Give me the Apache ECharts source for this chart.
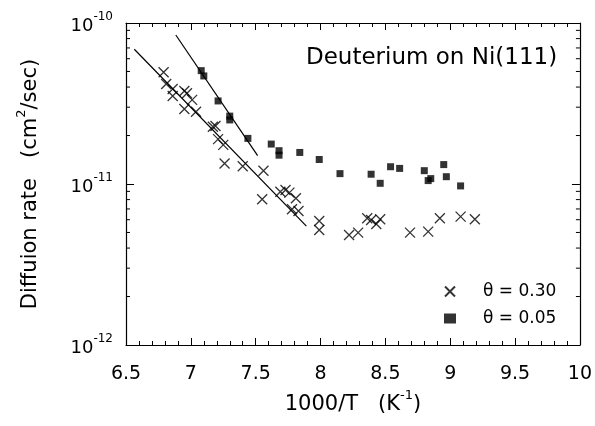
<!DOCTYPE html>
<html>
<head>
<meta charset="utf-8">
<script src="https://cdn.jsdelivr.net/npm/echarts@6/dist/echarts.min.js"></script>
<style>
html,body{margin:0;padding:0;background:#fff;}
#chart{width:595px;height:426px;}
</style>
</head>
<body>
<div id="chart"></div>
<script>
// theta = 0.30 (crosses)
var crossX = [6.79, 6.81, 6.86, 6.86, 6.95, 6.97, 7.01, 6.95, 7.04, 7.17, 7.19, 7.21, 7.25, 7.26, 7.40, 7.56, 7.55,
              7.69, 7.73, 7.76, 7.81, 7.78, 7.83, 7.99, 7.99, 8.22, 8.29, 8.36, 8.39, 8.43, 8.46, 8.69, 8.83, 8.92, 9.08, 9.19];
var crossY = [4.94e-11, 4.18e-11, 3.89e-11, 3.52e-11, 3.78e-11, 3.66e-11, 3.33e-11, 2.92e-11, 2.81e-11, 2.27e-11, 2.29e-11, 1.90e-11,
              1.75e-11, 1.34e-11, 1.29e-11, 1.21e-11, 8.04e-12, 8.96e-12, 9.18e-12, 8.84e-12, 8.15e-12, 6.97e-12, 6.80e-12, 5.89e-12,
              5.18e-12, 4.82e-12, 4.99e-12, 6.12e-12, 5.97e-12, 5.65e-12, 6.04e-12, 4.99e-12, 5.06e-12, 6.12e-12, 6.27e-12, 6.04e-12];
// theta = 0.05 (squares)
var squareX = [7.08, 7.10, 7.21, 7.30, 7.30, 7.44, 7.62, 7.68, 7.68, 7.84, 7.99, 8.15, 8.39, 8.46, 8.54, 8.61, 8.80, 8.83, 8.85, 8.95, 8.97, 9.08];
var squareY = [5.06e-11, 4.69e-11, 3.28e-11, 2.64e-11, 2.50e-11, 1.92e-11, 1.77e-11, 1.61e-11, 1.51e-11, 1.57e-11, 1.42e-11, 1.16e-11,
               1.15e-11, 1.01e-11, 1.28e-11, 1.25e-11, 1.21e-11, 1.05e-11, 1.08e-11, 1.32e-11, 1.11e-11, 9.73e-12];
// fitted lines (end points)
var fitCrossX = [6.564, 7.891];
var fitCrossY = [6.87e-11, 5.48e-12];
var fitSquareX = [6.884, 7.515];
var fitSquareY = [8.42e-11, 1.50e-11];
// axis ticks
var xTicks = [6.5, 7, 7.5, 8, 8.5, 9, 9.5, 10];
var yMinorTicks = [2e-12, 3e-12, 4e-12, 5e-12, 6e-12, 7e-12, 8e-12, 9e-12,
                   2e-11, 3e-11, 4e-11, 5e-11, 6e-11, 7e-11, 8e-11, 9e-11];

function zip(xs, ys){
    var out = [];
    for(var i=0;i<xs.length;i++){
        out.push([xs[i], ys[i]]);
    }
    return out;
}

var FONT = 'DejaVu Sans';
var crossPath = 'path://M0,0L10,10M10,0L0,10';
var supRich = {
    b: {fontFamily: FONT, fontSize: 21, color: '#000', lineHeight: 26, verticalAlign: 'bottom'},
    s: {fontFamily: FONT, fontSize: 13, color: '#000', lineHeight: 14, verticalAlign: 'top'}
};

var chart = echarts.init(document.getElementById('chart'));
var option = {
    animation: false,
    backgroundColor: '#fff',
    textStyle: {fontFamily: FONT, color: '#000'},
    title: {
        text: 'Deuterium on Ni(111)',
        left: 301, top: 42,
        textStyle: {fontFamily: FONT, fontSize: 23, fontWeight: 'normal', color: '#000'}
    },
    legend: {
        orient: 'vertical',
        left: 439, top: 278,
        itemWidth: 12, itemHeight: 10,
        itemGap: 10,
        data: ['θ = 0.30', 'θ = 0.05'],
        textStyle: {fontFamily: FONT, fontSize: 17, color: '#000', padding: [0, 0, 0, 22]}
    },
    grid: {left: 126, right: 13, top: 23, bottom: 81},
    xAxis: [{
        type: 'value', min: 6.5, max: 10, interval: 0.5,
        name: '{b|1000/T   (K}{s|-1}{b|)}',
        nameLocation: 'middle', nameGap: 44,
        nameTextStyle: {rich: supRich},
        axisLine: {lineStyle: {color: '#000', width: 1.2}},
        axisTick: {inside: true, length: 7, lineStyle: {color: '#000'}},
        minorTick: {show: true, splitNumber: 5, length: 4, lineStyle: {color: '#000'}},
        splitLine: {show: false},
        axisLabel: {margin: 20, fontFamily: FONT, fontSize: 19, color: '#000',
            formatter: function(v){ return xTicks.indexOf(v) >= 0 ? String(v) : ''; }}
    },{
        type: 'value', min: 6.5, max: 10, interval: 0.5, position: 'top',
        axisLine: {lineStyle: {color: '#000', width: 1.2}},
        axisTick: {inside: true, length: 7, lineStyle: {color: '#000'}},
        minorTick: {show: true, splitNumber: 5, length: 4, lineStyle: {color: '#000'}},
        splitLine: {show: false},
        axisLabel: {show: false}
    }],
    yAxis: [{
        type: 'log', logBase: 10, min: 1e-12, max: 1e-10, interval: 1,
        name: '{b|Diffuion rate   (cm}{s|2}{b|/sec)}',
        nameLocation: 'middle', nameGap: 85, nameRotate: 90,
        nameTextStyle: {rich: supRich},
        axisLine: {show: true, lineStyle: {color: '#000', width: 1.2}},
        axisTick: {inside: true, length: 8, lineStyle: {color: '#000'}},
        splitLine: {show: false},
        axisLabel: {margin: 13, formatter: function(v){
                var e = Math.round(Math.log(v) / Math.LN10);
                return '{b|10}{s|' + e + '}';
            },
            rich: {
                b: {fontFamily: FONT, fontSize: 18, color: '#000', lineHeight: 24, verticalAlign: 'bottom'},
                s: {fontFamily: FONT, fontSize: 12, color: '#000', lineHeight: 13, verticalAlign: 'top'}
            }
        }
    },{
        type: 'log', logBase: 10, min: 1e-12, max: 1e-10, interval: 1, position: 'right',
        axisLine: {show: true, lineStyle: {color: '#000', width: 1.2}},
        axisTick: {inside: true, length: 8, lineStyle: {color: '#000'}},
        splitLine: {show: false},
        axisLabel: {show: false}
    }],
    series: [{
        name: 'θ = 0.30',
        type: 'scatter',
        symbol: crossPath, symbolSize: 10,
        itemStyle: {color: 'rgba(0,0,0,0)', borderColor: '#000', borderWidth: 1.3},
        data: zip(crossX, crossY)
    },{
        name: 'θ = 0.05',
        type: 'scatter',
        symbol: 'rect', symbolSize: 7,
        itemStyle: {color: '#000'},
        data: zip(squareX, squareY)
    },{
        type: 'line', showSymbol: false, symbol: 'none',
        lineStyle: {color: '#000', width: 1.2},
        data: zip(fitCrossX, fitCrossY)
    },{
        type: 'line', showSymbol: false, symbol: 'none',
        lineStyle: {color: '#000', width: 1.2},
        data: zip(fitSquareX, fitSquareY)
    },{
        // log minor ticks on left and right axes
        type: 'custom', silent: true, clip: false,
        data: yMinorTicks.map(function(v){ return [6.5, v]; }),
        renderItem: function(params, api){
            var v = api.value(1);
            var l = api.coord([6.5, v]);
            var r = api.coord([10, v]);
            return {type: 'group', children: [
                {type: 'line', shape: {x1: l[0], y1: l[1], x2: l[0] + 4, y2: l[1]}, style: {stroke: '#000', lineWidth: 1}},
                {type: 'line', shape: {x1: r[0] - 4, y1: r[1], x2: r[0], y2: r[1]}, style: {stroke: '#000', lineWidth: 1}}
            ]};
        }
    }]
};
chart.setOption(option);
</script>
</body>
</html>
